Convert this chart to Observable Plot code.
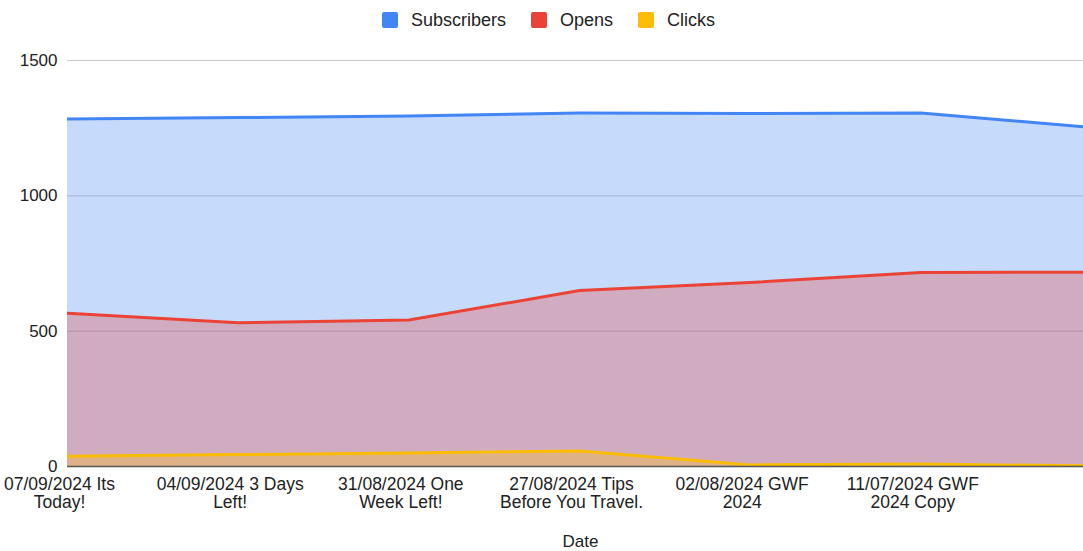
<!DOCTYPE html>
<html>
<head>
<meta charset="utf-8">
<script src="https://cdn.jsdelivr.net/npm/d3@7"></script>
<script src="https://cdn.jsdelivr.net/npm/@observablehq/plot@0.6"></script>
<style>
  html, body { margin: 0; padding: 0; background: #fff; overflow: hidden; }
  body { font-family: "Liberation Sans", Arial, sans-serif; color: #222; }
  #legend { height: 40px; display: flex; justify-content: center; align-items: center; gap: 25px; font-size: 18px; padding-left: 14px; box-sizing: border-box; }
  .item { display: flex; align-items: center; gap: 13px; }
  .sw { width: 16px; height: 16px; border-radius: 2px; }
  #chart svg { overflow: hidden; display: block; }
</style>
</head>
<body>
<div id="legend"></div>
<div id="chart"></div>
<script>
const labels = [
  "07/09/2024 Its Today!",
  "04/09/2024 3 Days Left!",
  "31/08/2024 One Week Left!",
  "27/08/2024 Tips Before You Travel.",
  "02/08/2024 GWF 2024",
  "11/07/2024 GWF 2024 Copy"
];
const subscribers = [1284, 1289, 1295, 1306, 1304, 1306, 1253];
const opens = [566, 531, 541, 650, 680, 717, 718];
const clicks = [38, 44, 50, 57, 6, 9, 2];
const seriesNames = ["Subscribers", "Opens", "Clicks"];
const seriesColors = ["#4285f4", "#ea4335", "#fbbc04"];
const yTicks = [0, 500, 1000, 1500];

const seriesValues = [subscribers, opens, clicks];
const tables = seriesValues.map((vals, k) => vals.map((v, i) => ({i, value: v, series: seriesNames[k]})));

// legend
const legend = document.getElementById("legend");
seriesNames.forEach((name, k) => {
  const it = document.createElement("div");
  it.className = "item";
  const sw = document.createElement("div");
  sw.className = "sw";
  sw.style.background = seriesColors[k];
  const t = document.createElement("span");
  t.textContent = name;
  it.appendChild(sw); it.appendChild(t);
  legend.appendChild(it);
});

const n = subscribers.length;
const marks = [
  Plot.gridY(yTicks.filter(d => d > 0), {stroke: "#c8c8c8", strokeOpacity: 1, strokeWidth: 1})
];
tables.forEach((tbl, k) => {
  marks.push(Plot.areaY(tbl, {x: "i", y: "value", fill: seriesColors[k], fillOpacity: 0.3, clip: true}));
});
tables.forEach((tbl, k) => {
  marks.push(Plot.lineY(tbl, {x: "i", y: "value", stroke: seriesColors[k], strokeWidth: 3, clip: true}));
});
marks.push(Plot.ruleY([0], {stroke: "#555", strokeWidth: 1.5}));
marks.push(Plot.axisY({ticks: yTicks, tickFormat: d3.format("d"), tickSize: 0, tickPadding: 10, fontSize: 17, label: null, fill: "#222"}));
marks.push(Plot.axisX({ticks: d3.range(labels.length), tickFormat: i => labels[i], tickSize: 0, tickPadding: 11, fontSize: 17.5, lineWidth: 9.4, lineHeight: 1.02, dx: -8, label: null, fill: "#222"}));
marks.push(Plot.text(["Date"], {frameAnchor: "bottom", dy: 75, dx: 5, fontSize: 17, fill: "#222", lineAnchor: "middle"}));

const chart = Plot.plot({
  width: 1083,
  height: 511,
  marginTop: 20,
  marginBottom: 85,
  marginLeft: 67,
  marginRight: 0,
  style: {fontFamily: "'Liberation Sans', Arial, sans-serif", fontSize: "17px", background: "#fff", color: "#222", overflow: "hidden"},
  x: {type: "linear", domain: [0, n - 1], range: [67, 1091], label: null},
  y: {domain: [0, 1500], label: null},
  marks
});
document.getElementById("chart").appendChild(chart);
</script>
</body>
</html>
